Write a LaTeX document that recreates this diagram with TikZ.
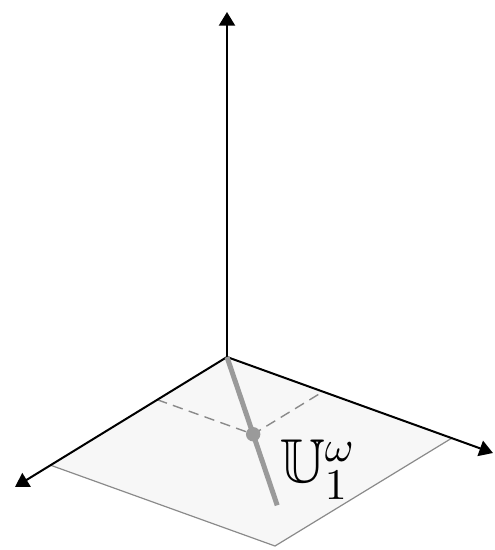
\documentclass[tikz,border=0pt]{standalone}
\usepackage{amsmath, amssymb}
\usepackage{xcolor}
\usepackage{tikz}
\usetikzlibrary{arrows.meta, calc}
\definecolor{ink}{HTML}{000000}
\definecolor{plane}{HTML}{F7F7F7}
\definecolor{edge}{HTML}{8A8A8A}
\definecolor{fibre}{HTML}{9A9A9A}

\begin{document}
\begin{tikzpicture}[x=0.25pt, y=-0.25pt,
    axis/.style={ink, line width=0.5pt, -{Triangle[length=3.4pt, width=4pt]}},
    rim/.style={edge, line width=0.3pt},
    proj/.style={edge, line width=0.35pt, dash pattern=on 2.6pt off 1.6pt}]
  \useasboundingbox (0,0) rectangle (495,550);
  % corners of the base plane
  \coordinate (o) at (227,357);
  \coordinate (l) at (50,465);
  \coordinate (r) at (452,438);
  \coordinate (b) at ($(l)+(r)-(o)$);
  \fill[plane] (o) -- (l) -- (b) -- (r) -- cycle;
  \draw[rim] (l) -- (b) -- (r);
  % foot of the fibre and its projections on the edges
  \coordinate (pl) at ($(o)!0.395!(l)$);
  \coordinate (pr) at ($(o)!0.427!(r)$);
  \coordinate (p) at ($(pl)+(pr)-(o)$);
  \draw[proj] (pl) -- (p) -- (pr);
  % axes
  \coordinate (zt) at (227,12);
  \coordinate (xt) at (15,487);
  \coordinate (yt) at (493,453);
  \draw[axis] (o) -- (zt);
  \draw[axis] (o) -- (xt);
  \draw[axis] (o) -- (yt);
  % the fibre
  \coordinate (fe) at ($(o)!1.92!(p)$);
  \draw[fibre, line width=1.25pt] (o) -- (fe);
  \fill[fibre] (p) circle (1.8pt);
  \node[font=\fontsize{15.5}{18}\selectfont] (lab) at (318,470) {$\mathbb{U}_1^\omega$};
\end{tikzpicture}
\end{document}
